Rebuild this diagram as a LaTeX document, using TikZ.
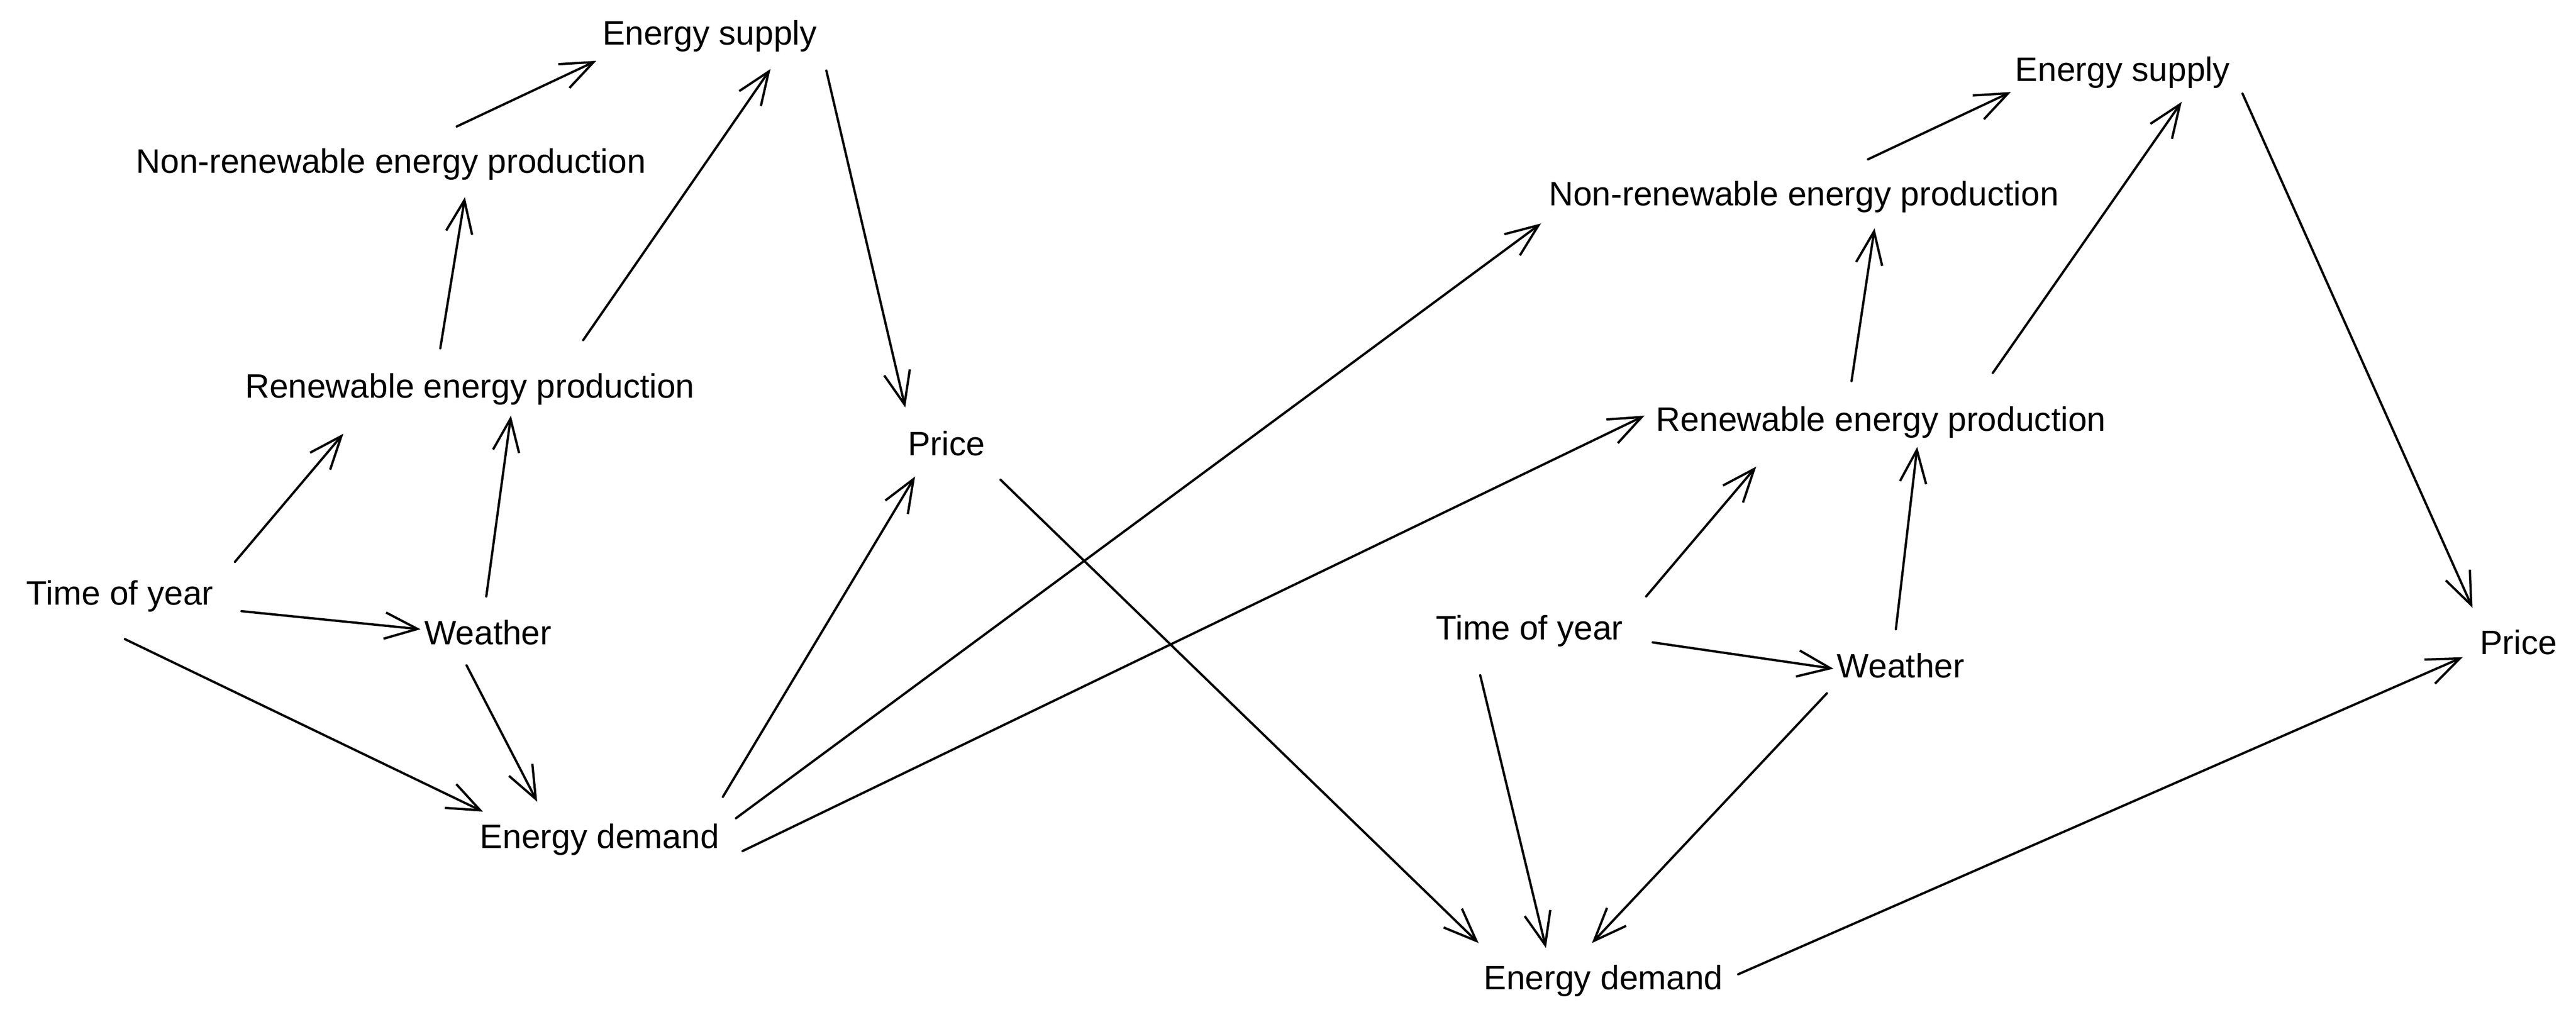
\documentclass[tikz,border=0pt]{standalone}
\usepackage{fontspec}
\setmainfont{Liberation Sans}
\usetikzlibrary{arrows.meta}
\begin{document}
\begin{tikzpicture}[x=0.5pt,y=-0.5pt,
  lbl/.style={font=\fontsize{10.3}{12}\selectfont,inner sep=0pt,anchor=center},
  arr/.style={draw=black,line width=0.7pt,line cap=round,-{Straight Barb[length=10pt,width=8pt,line width=0.7pt]}}]
\useasboundingbox[fill=white] (0,0) rectangle (1568,619);
% left diagram
\node[lbl] (ES1) at (432,22) {Energy supply};
\node[lbl] (NR1) at (238,100) {Non-renewable energy production};
\node[lbl] (RE1) at (286,237) {Renewable energy production};
\node[lbl] (PR1) at (576,270) {Price};
\node[lbl] (TY1) at (73,363) {Time of year};
\node[lbl] (WE1) at (297,385) {Weather};
\node[lbl] (ED1) at (365,511) {Energy demand};
% right diagram
\node[lbl] (ES2) at (1292,44) {Energy supply};
\node[lbl] (NR2) at (1098,120) {Non-renewable energy production};
\node[lbl] (RE2) at (1145,257) {Renewable energy production};
\node[lbl] (TY2) at (931,384) {Time of year};
\node[lbl] (WE2) at (1157,405) {Weather};
\node[lbl] (PR2) at (1533,391) {Price};
\node[lbl] (ED2) at (976,597) {Energy demand};
% left arrows
\draw[arr] ([shift={(40,-23)}]NR1.center) -- ([shift={(-69,15)}]ES1.center);
\draw[arr] ([shift={(-18,-25)}]RE1.center) -- ([shift={(45,20)}]NR1.center);
\draw[arr] ([shift={(69,-30)}]RE1.center) -- ([shift={(37,20)}]ES1.center);
\draw[arr] ([shift={(71,21)}]ES1.center) -- ([shift={(-25,-22)}]PR1.center);
\draw[arr] ([shift={(70,-21)}]TY1.center) -- ([shift={(-77,27)}]RE1.center);
\draw[arr] ([shift={(-1,-22)}]WE1.center) -- ([shift={(25,16)}]RE1.center);
\draw[arr] ([shift={(74,9)}]TY1.center) -- ([shift={(-41,-2)}]WE1.center);
\draw[arr] ([shift={(3,26)}]TY1.center) -- ([shift={(-71,-17)}]ED1.center);
\draw[arr] ([shift={(-13,20)}]WE1.center) -- ([shift={(-38,-23)}]ED1.center);
\draw[arr] ([shift={(75,-26)}]ED1.center) -- ([shift={(-19,20)}]PR1.center);
% cross arrows
\draw[arr] ([shift={(83,-13)}]ED1.center) -- ([shift={(-160,16)}]NR2.center);
\draw[arr] ([shift={(87,7)}]ED1.center) -- ([shift={(-144,-4)}]RE2.center);
\draw[arr] ([shift={(33,22)}]PR1.center) -- ([shift={(-76,-23)}]ED2.center);
% right arrows
\draw[arr] ([shift={(39,-23)}]NR2.center) -- ([shift={(-68,12)}]ES2.center);
\draw[arr] ([shift={(-18,-25)}]RE2.center) -- ([shift={(43,19)}]NR2.center);
\draw[arr] ([shift={(68,-30)}]RE2.center) -- ([shift={(36,18)}]ES2.center);
\draw[arr] ([shift={(73,13)}]ES2.center) -- ([shift={(-28,-21)}]PR2.center);
\draw[arr] ([shift={(71,-21)}]TY2.center) -- ([shift={(-76,27)}]RE2.center);
\draw[arr] ([shift={(-3,-22)}]WE2.center) -- ([shift={(22,15)}]RE2.center);
\draw[arr] ([shift={(75,7)}]TY2.center) -- ([shift={(-41,2)}]WE2.center);
\draw[arr] ([shift={(-30,27)}]TY2.center) -- ([shift={(-35,-20)}]ED2.center);
\draw[arr] ([shift={(-45,17)}]WE2.center) -- ([shift={(-7,-23)}]ED2.center);
\draw[arr] ([shift={(82,-4)}]ED2.center) -- ([shift={(-34,9)}]PR2.center);
\end{tikzpicture}
\end{document}
